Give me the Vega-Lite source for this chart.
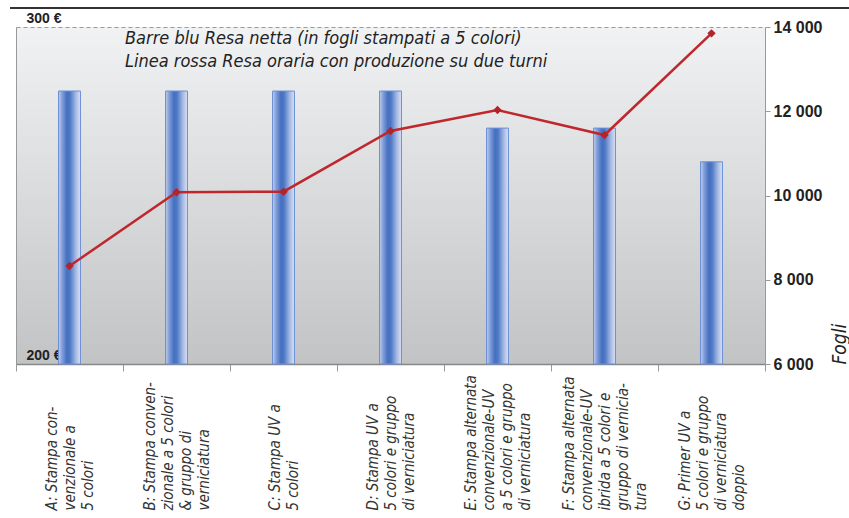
{
  "$schema": "https://vega.github.io/schema/vega-lite/v6.json",
  "width": 749,
  "height": 337,
  "autosize": {"type": "none"},
  "padding": {"left": 16, "top": 27, "right": 84, "bottom": 154},
  "background": "white",
  "title": {
    "text": ["Barre blu Resa netta (in fogli stampati a 5 colori)", "Linea rossa Resa oraria con produzione su due turni"],
    "anchor": "start",
    "frame": "group",
    "dx": 109,
    "offset": -64,
    "baseline": "top",
    "font": "Liberation Sans Narrow, DejaVu Sans Condensed, sans-serif",
    "fontSize": 18,
    "fontStyle": "italic",
    "fontWeight": "normal",
    "color": "#222222",
    "lineHeight": 23
  },
  "config": {
    "view": {
      "stroke": null,
      "fill": {"gradient": "linear", "x1": 0, "y1": 0, "x2": 0, "y2": 1, "stops": [{"offset": 0, "color": "#f1f2f3"}, {"offset": 1, "color": "#c2c3c5"}]}
    }
  },
  "data": {
    "values": [
      {"cat": "A: Stampa con-|venzionale a|5 colori", "euro": 281, "fogli": 8326},
      {"cat": "B: Stampa conven-|zionale a 5 colori|& gruppo di|verniciatura", "euro": 281, "fogli": 10076},
      {"cat": "C: Stampa UV a|5 colori", "euro": 281, "fogli": 10090},
      {"cat": "D: Stampa UV a|5 colori e gruppo|di verniciatura", "euro": 281, "fogli": 11531},
      {"cat": "E: Stampa alternata|convenzionale-UV|a 5 colori e gruppo|di verniciatura", "euro": 270, "fogli": 12030},
      {"cat": "F: Stampa alternata|convenzionale-UV|ibrida a 5 colori e|gruppo di vernicia-|tura", "euro": 270, "fogli": 11436},
      {"cat": "G: Primer UV a|5 colori e gruppo|di verniciatura|doppio", "euro": 260, "fogli": 13850}
    ]
  },
  "layer": [
    {
      "encoding": {
        "x": {
          "field": "cat",
          "type": "nominal",
          "sort": null,
          "scale": {"paddingInner": 0, "paddingOuter": 0},
          "axis": {
            "title": null,
            "labelAngle": -90,
            "labelAlign": "left",
            "labelBaseline": "middle",
            "labelExpr": "split(datum.label, '|')",
            "labelFont": "Liberation Sans Narrow, DejaVu Sans Condensed, sans-serif",
            "labelFontSize": 15,
            "labelFontStyle": "italic",
            "labelColor": "#333333",
            "labelLineHeight": 18,
            "labelLimit": 400,
            "labelPadding": 139,
            "labelOffset": {
              "condition": [
                {"test": "length(split(datum.value, '|')) == 2", "value": -9},
                {"test": "length(split(datum.value, '|')) == 3", "value": -18},
                {"test": "length(split(datum.value, '|')) == 4", "value": -27}
              ],
              "value": -36
            },
            "labelOverlap": false,
            "tickBand": "extent",
            "tickSize": 7,
            "tickColor": "#999999",
            "domainColor": "#888888",
            "domainWidth": 1.5
          }
        }
      },
      "layer": [
        {
          "mark": {
            "type": "bar",
            "width": {"band": 0.205},
            "fill": {"gradient": "linear", "x1": 0, "y1": 0, "x2": 1, "y2": 0, "stops": [
              {"offset": 0, "color": "#c3cfec"},
              {"offset": 0.15, "color": "#86a1da"},
              {"offset": 0.38, "color": "#4470c2"},
              {"offset": 0.52, "color": "#4d78c5"},
              {"offset": 0.78, "color": "#a3b7e2"},
              {"offset": 1, "color": "#dce3f4"}
            ]},
            "stroke": "#6b8fd6",
            "strokeWidth": 1
          },
          "encoding": {
            "y": {
              "field": "euro",
              "type": "quantitative",
              "scale": {"domain": [200, 300], "zero": false},
              "axis": {
                "orient": "left",
                "values": [200, 300],
                "title": null,
                "labelExpr": "datum.value + ' €'",
                "labelAlign": "left",
                "labelPadding": -10,
                "labelBaseline": "bottom",
                "labelOffset": -2,
                "labelFont": "Liberation Sans",
                "labelFontWeight": "bold",
                "labelFontSize": 14,
                "labelColor": "#222222",
                "ticks": false,
                "domainColor": "#999999",
                "grid": true,
                "gridDash": [4, 3],
                "gridColor": "#9a9a9a"
              }
            },
            "y2": {"datum": 200}
          }
        },
        {
          "mark": {
            "type": "line",
            "color": "#c0272d",
            "strokeWidth": 2.5,
            "point": {"shape": "diamond", "size": 70, "filled": true, "color": "#b3232a"}
          },
          "encoding": {
            "y": {
              "field": "fogli",
              "type": "quantitative",
              "scale": {"domain": [6000, 14000], "zero": false},
              "axis": {
                "orient": "right",
                "values": [6000, 8000, 10000, 12000, 14000],
                "labelExpr": "replace(format(datum.value, ','), ',', ' ')",
                "labelFont": "Liberation Sans",
                "labelFontWeight": "bold",
                "labelFontSize": 16,
                "labelColor": "#222222",
                "labelPadding": 3,
                "tickColor": "#999999",
                "tickSize": 5,
                "domainColor": "#999999",
                "grid": false,
                "title": "Fogli",
                "titleAngle": 270,
                "titleAnchor": "start",
                "titleFont": "Liberation Sans Narrow, DejaVu Sans Condensed, sans-serif",
                "titleFontStyle": "italic",
                "titleFontWeight": "normal",
                "titleFontSize": 19,
                "titleColor": "#222222",
                "titleX": 80,
                "titleAlign": "left",
                "titleBaseline": "alphabetic"
              }
            }
          }
        }
      ],
      "resolve": {"scale": {"y": "independent"}}
    },
    {
      "mark": {"type": "rule", "color": "#333333", "strokeWidth": 1.5, "clip": false},
      "encoding": {
        "x": {"datum": -0.008, "type": "quantitative", "scale": {"domain": [0, 1], "zero": false}, "axis": null},
        "x2": {"datum": 1.112},
        "y": {"datum": 305.6, "type": "quantitative", "scale": {"domain": [200, 300], "zero": false}, "axis": null}
      }
    }
  ],
  "resolve": {"scale": {"x": "independent", "y": "independent"}}
}
